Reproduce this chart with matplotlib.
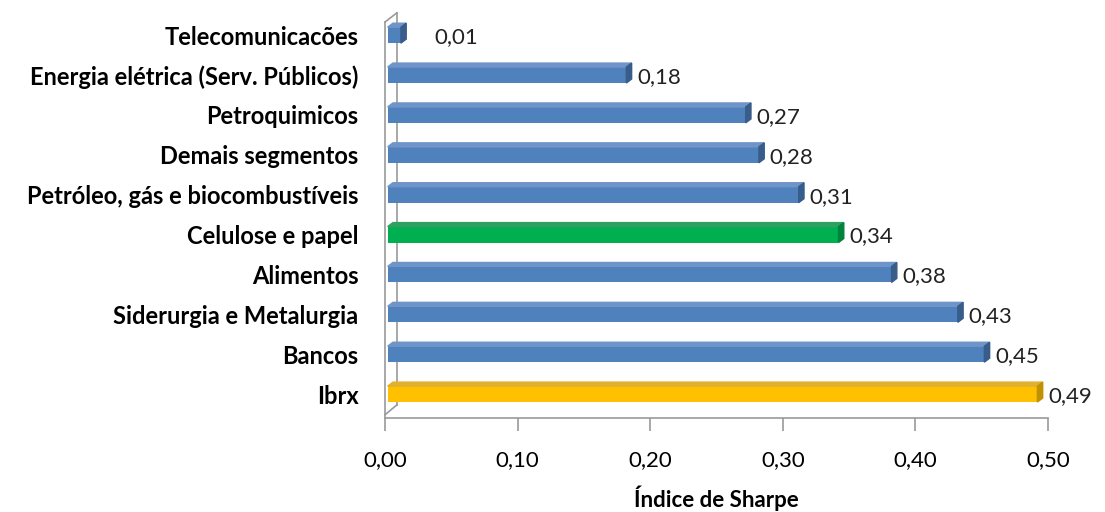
import numpy as np
import matplotlib
matplotlib.use("Agg")
import matplotlib.pyplot as plt
from matplotlib.patches import Polygon

# data, bottom to top
sectors = ["Ibrx", "Bancos", "Siderurgia e Metalurgia", "Alimentos", "Celulose e papel",
           "Petróleo, gás e biocombustíveis", "Demais segmentos", "Petroquimicos",
           "Energia elétrica (Serv. Públicos)", "Telecomunicacões"]
sharpe = [0.49, 0.45, 0.43, 0.38, 0.34, 0.31, 0.28, 0.27, 0.18, 0.01]
bar_colors = ["#FFC000", "#4F81BD", "#4F81BD", "#4F81BD", "#00B050",
              "#4F81BD", "#4F81BD", "#4F81BD", "#4F81BD", "#4F81BD"]
side_colors = ["#C09100", "#385D8A", "#385D8A", "#385D8A", "#00843C",
               "#385D8A", "#385D8A", "#385D8A", "#385D8A", "#385D8A"]
top_colors = ["#E0B030", "#6F94C8", "#6F94C8", "#6F94C8", "#30A060",
              "#6F94C8", "#6F94C8", "#6F94C8", "#6F94C8", "#6F94C8"]
xticks = [0.0, 0.1, 0.2, 0.3, 0.4, 0.5]

fig = plt.figure(figsize=(11.05, 5.12), dpi=100)
ax = fig.add_axes([385 / 1105, 1 - 418 / 512, 663 / 1105, 396 / 512])

y = np.arange(len(sectors))
h = 0.4
dx, dy = 0.004, 0.1
ax.barh(y, sharpe, height=h, left=0.002, color=bar_colors, zorder=3)
for yi, v, sc, tc in zip(y, sharpe, side_colors, top_colors):
    top = [(0.002, yi + h / 2), (v + 0.002, yi + h / 2),
           (v + 0.002 + dx, yi + h / 2 + dy), (0.002 + dx, yi + h / 2 + dy)]
    side = [(v + 0.002, yi - h / 2), (v + 0.002, yi + h / 2),
            (v + 0.002 + dx, yi + h / 2 + dy), (v + 0.002 + dx, yi - h / 2 + dy)]
    ax.add_patch(Polygon(top, closed=True, color=tc, zorder=3))
    ax.add_patch(Polygon(side, closed=True, color=sc, zorder=3))
    ax.text(max(v, 0.027) + 0.01, yi - 0.05, f"{v:.2f}".replace(".", ","),
            va="center", ha="left", fontsize=16, family="Lato", color="#222222")

ax.set_xlim(0, 0.5)
ax.set_ylim(-0.6, 9.33)

# back wall of the 3D frame
wx = 0.009
ax.plot([wx, wx], [-0.27, 9.56], color="#9a9a9a", lw=1.2, clip_on=False, zorder=2)
ax.plot([0, wx], [-0.52, -0.27], color="#9a9a9a", lw=1.2, clip_on=False, zorder=2)
ax.plot([0, wx], [9.33, 9.56], color="#9a9a9a", lw=1.2, clip_on=False, zorder=2)

for s in ["top", "right"]:
    ax.spines[s].set_visible(False)
for s in ["left", "bottom"]:
    ax.spines[s].set_color("#9a9a9a")
    ax.spines[s].set_linewidth(1.2)

ax.set_xticks(xticks)
ax.set_xticklabels([f"{t:.2f}".replace(".", ",") for t in xticks], fontsize=16, family="Lato")
ax.tick_params(axis="x", direction="out", length=9, width=1.2, color="#9a9a9a", pad=14)
ax.set_yticks(y)
ax.set_yticklabels(sectors, fontsize=17, family="Lato", fontweight="bold")
ax.tick_params(axis="y", length=0, pad=19)
ax.set_xlabel("Índice de Sharpe", fontsize=16, family="Lato", fontweight="bold", labelpad=11)

fig.savefig("out.png", dpi=100)
